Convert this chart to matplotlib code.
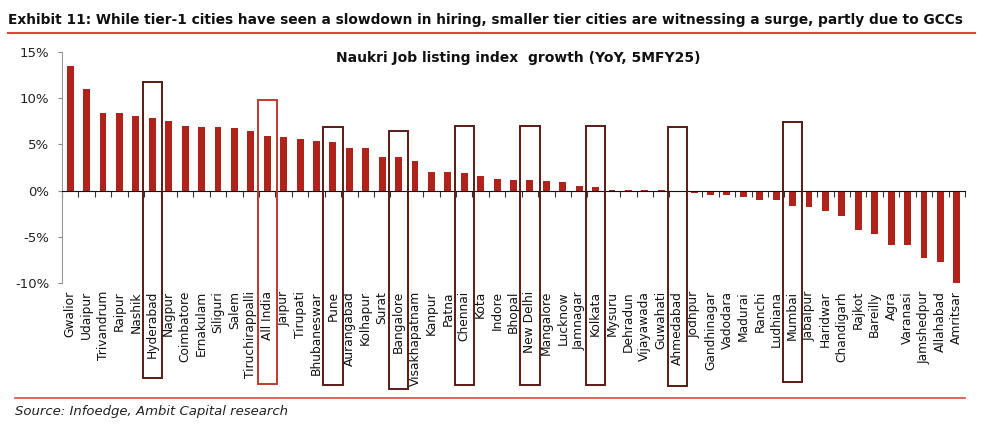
import matplotlib
matplotlib.use('Agg')
import matplotlib.pyplot as plt
from matplotlib.patches import Rectangle
from matplotlib.lines import Line2D

cities = ['Gwalior', 'Udaipur', 'Trivandrum', 'Raipur', 'Nashik', 'Hyderabad', 'Nagpur',
          'Coimbatore', 'Ernakulam', 'Siliguri', 'Salem', 'Tiruchirappalli', 'All India',
          'Jaipur', 'Tirupati', 'Bhubaneswar', 'Pune', 'Aurangabad', 'Kolhapur', 'Surat',
          'Bangalore', 'Visakhapatnam', 'Kanpur', 'Patna', 'Chennai', 'Kota', 'Indore',
          'Bhopal', 'New Delhi', 'Mangalore', 'Lucknow', 'Jamnagar', 'Kolkata', 'Mysuru',
          'Dehradun', 'Vijayawada', 'Guwahati', 'Ahmedabad', 'Jodhpur', 'Gandhinagar',
          'Vadodara', 'Madurai', 'Ranchi', 'Ludhiana', 'Mumbai', 'Jabalpur', 'Haridwar',
          'Chandigarh', 'Rajkot', 'Bareilly', 'Agra', 'Varanasi', 'Jamshedpur', 'Allahabad',
          'Amritsar']
growth = [13.5, 11.0, 8.45, 8.35, 8.05, 7.9, 7.55, 7.0, 6.9, 6.87, 6.8, 6.47, 5.93,
          5.83, 5.57, 5.32, 5.25, 4.64, 4.64, 3.63, 3.6, 3.17, 1.98, 1.98, 1.87, 1.58, 1.29,
          1.19, 1.12, 1.0, 0.9, 0.5, 0.4, 0.02, 0.02, 0.02, 0.02, -0.2, -0.25, -0.43,
          -0.47, -0.65, -1.0, -1.0, -1.7, -1.8, -2.2, -2.7, -4.3, -4.7, -5.86, -5.86,
          -7.26, -7.77, -10.17]

# highlighted cities and top/bottom of their frame (in % units)
boxed = ['Hyderabad', 'All India', 'Pune', 'Bangalore', 'Chennai', 'New Delhi',
         'Kolkata', 'Ahmedabad', 'Mumbai']
box_top = [11.8, 9.8, 6.9, 6.5, 7.0, 7.0, 7.0, 6.9, 7.4]
box_bottom = [-20.3, -20.9, -21.0, -21.5, -21.0, -21.0, -21.0, -21.1, -20.7]

yticks = [-10, -5, 0, 5, 10, 15]

BAR = '#b0231b'
FRAME = '#5c1a14'
RULE = '#e2453c'

fig = plt.figure(figsize=(9.83, 4.32), dpi=100)
ax = fig.add_axes([62/983, 1-283/432, (965-62)/983, (283-52)/432])
x = list(range(len(cities)))
ax.bar(x, growth, width=0.42, color=BAR, zorder=2)
ax.set_xlim(-0.5, len(cities)-0.5)
ax.set_ylim(-10, 15)
ax.set_yticks(yticks)
ax.set_yticklabels([f'{v}%' for v in yticks], fontsize=9.5, color='#222')
ax.tick_params(axis='y', length=3, color='#888', pad=6)
for s in ['top', 'right']:
    ax.spines[s].set_visible(False)
ax.spines['left'].set_color('#999')
ax.spines['bottom'].set_position(('data', 0))
ax.spines['bottom'].set_color('#111')
ax.set_xticks([i+0.5 for i in x[:-1]] + [-0.5, len(cities)-0.5])
ax.set_xticklabels([])
ax.tick_params(axis='x', length=4, color='#333', direction='out')

tr = ax.get_xaxis_transform()
for i, c in enumerate(cities):
    ax.text(i, -0.035, c, rotation=90, ha='center', va='top', fontsize=8.8,
            color='#111', transform=tr)

for c, t, b in zip(boxed, box_top, box_bottom):
    i = cities.index(c)
    col = '#c0392b' if c == 'All India' else FRAME
    ax.add_patch(Rectangle((i-0.59, b), 1.18, t-b, fill=False, ec=col, lw=1.4,
                           clip_on=False, zorder=3))

title = fig.text(8/983, 1-20/432, 'Exhibit 11: While tier-1 cities have seen a slowdown in hiring, '
                 'smaller tier cities are witnessing a surge, partly due to GCCs',
                 fontsize=11.5, fontweight='bold', va='center', ha='left', color='#111')
# shrink title to fit the rule width (no condensed font available)
r = fig.canvas.get_renderer()
w = title.get_window_extent(r).width
title.set_fontsize(11.5*min(1.0, 965/w))
fig.add_artist(Line2D([8/983, 975/983], [1-33/432]*2, color=RULE, lw=1.5))
fig.text(518/983, 1-58/432, 'Naukri Job listing index  growth (YoY, 5MFY25)',
         ha='center', va='center', fontsize=10, fontweight='bold', color='#111')
fig.add_artist(Line2D([15/983, 965/983], [1-398/432]*2, color=RULE, lw=1.2))
fig.text(15/983, 1-411/432, 'Source: Infoedge, Ambit Capital research', fontsize=9.5,
         style='italic', va='center', ha='left', color='#222')

fig.savefig('out.png', dpi=100)
